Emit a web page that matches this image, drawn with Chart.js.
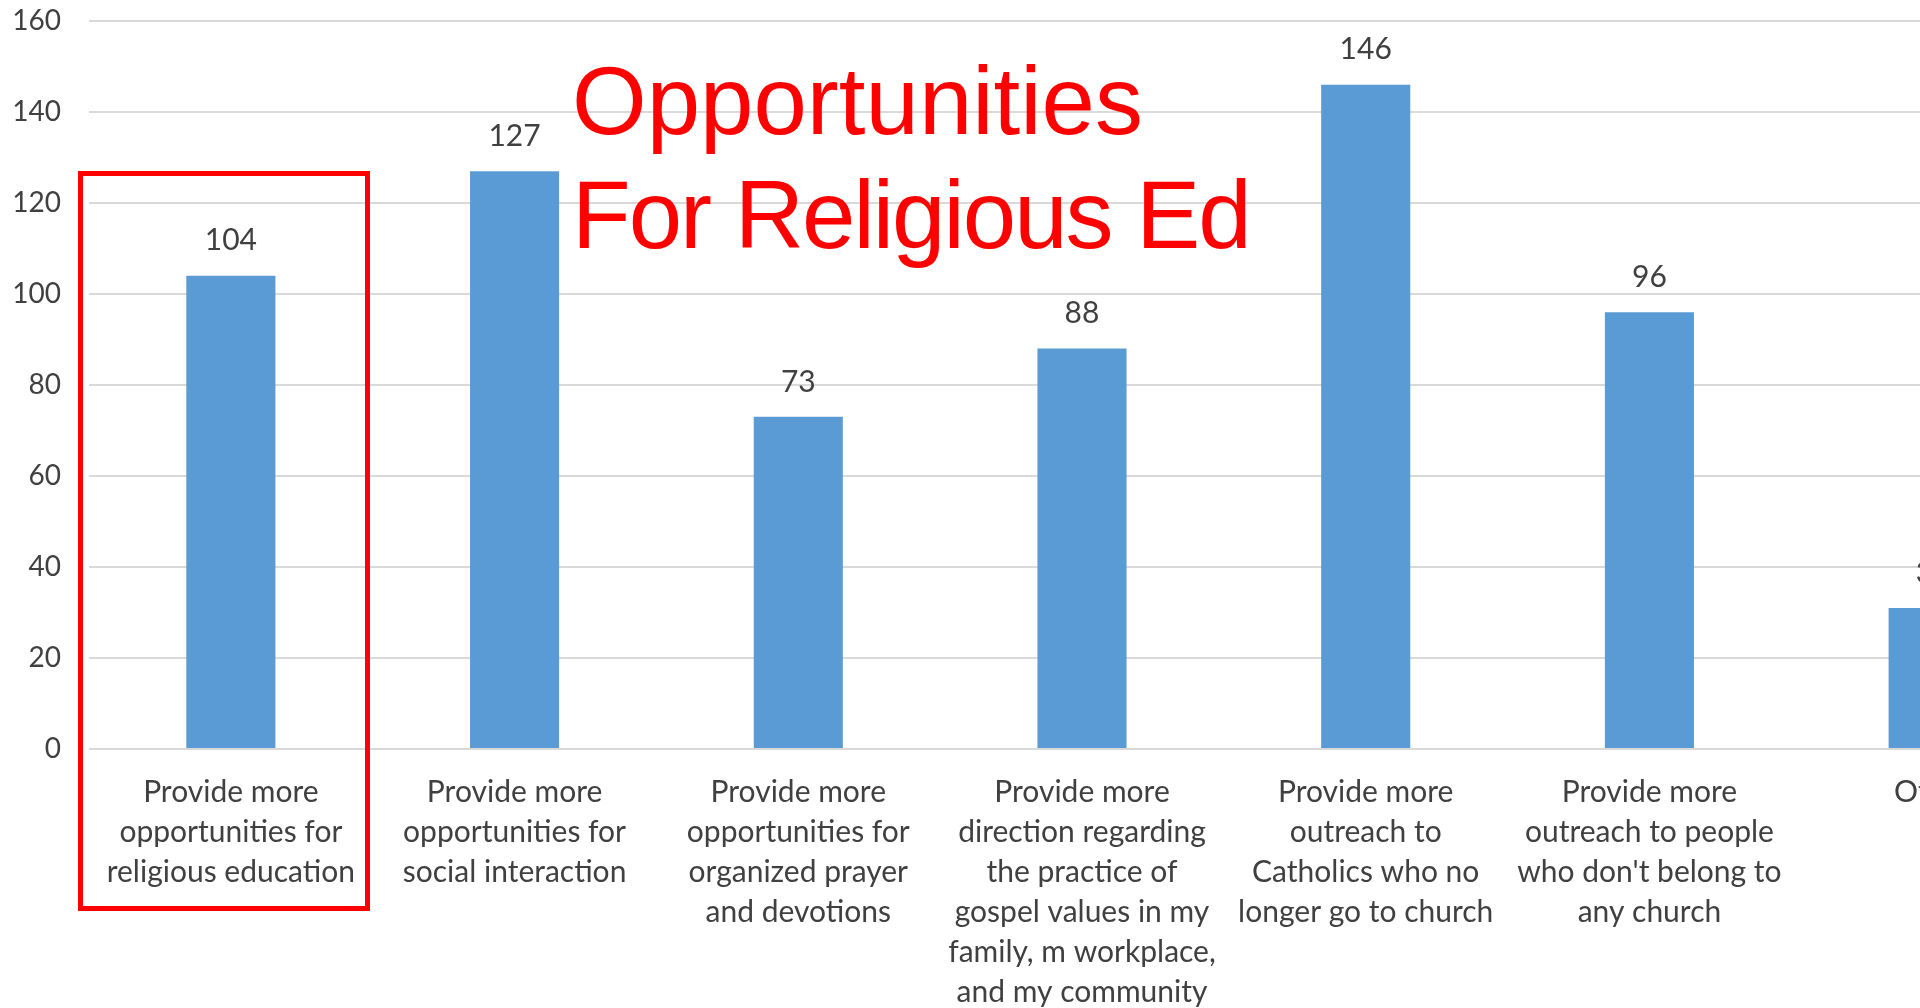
<!DOCTYPE html>
<html>
<head>
<meta charset="utf-8">
<script src="https://cdn.jsdelivr.net/npm/chart.js@4/dist/chart.umd.min.js"></script>
<style>
    html, body { margin: 0; padding: 0; overflow: hidden; background: #fff; }
    #wrap { position: relative; width: 2095px; height: 1008px; }
    #title {
        position: absolute; left: 572px; top: 44px;
        font-family: "Liberation Sans", Arial, sans-serif;
        font-size: 96px; line-height: 114px; color: #ff0000;
        white-space: nowrap; pointer-events: none;
    }
    #title span { letter-spacing: -2px; }
    #box {
        position: absolute; left: 78px; top: 171px; width: 292px; height: 740px;
        border: 5px solid #ff0000; box-sizing: border-box; pointer-events: none;
    }
</style>
</head>
<body>
<div id="wrap">
    <canvas id="chartOpciones"></canvas>
    <div id="box"></div>
    <div id="title">Opportunities<br><span>For Religious Ed</span></div>
</div>
<script>
// categorias y valores
var categorias = [
    ['Provide more', 'opportunities for', 'religious education'],
    ['Provide more', 'opportunities for', 'social interaction'],
    ['Provide more', 'opportunities for', 'organized prayer', 'and devotions'],
    ['Provide more', 'direction regarding', 'the practice of', 'gospel values in my', 'family, m workplace,', 'and my community'],
    ['Provide more', 'outreach to', 'Catholics who no', 'longer go to church'],
    ['Provide more', 'outreach to people', "who don't belong to", 'any church'],
    ['Other']
];
var valores = [104, 127, 73, 88, 146, 96, 31];
var ticksY = [0, 20, 40, 60, 80, 100, 120, 140, 160];

const textoColor = '#404040';

// etiquetas encima de cada barra
const etiquetasValor = {
    id: 'etiquetasValor',
    afterDatasetsDraw(chart) {
        const ctx = chart.ctx;
        const meta = chart.getDatasetMeta(0);
        ctx.save();
        ctx.font = '30px Lato';
        ctx.fillStyle = textoColor;
        ctx.textAlign = 'center';
        ctx.textBaseline = 'middle';
        meta.data.forEach(function(bar, i) {
            ctx.fillText(String(valores[i]), bar.x, bar.y - 35);
        });
        ctx.restore();
    }
};

window.addEventListener('DOMContentLoaded', function() {
    const ctx = document.getElementById('chartOpciones').getContext('2d');
    new Chart(ctx, {
        type: 'bar',
        data: {
            labels: categorias,
            datasets: [{
                data: valores,
                backgroundColor: '#5b9bd5',
                categoryPercentage: 1,
                barPercentage: 0.314
            }]
        },
        options: {
            responsive: true,
            maintainAspectRatio: false,
            animation: false,
            layout: { padding: { top: 0, right: 20, left: 0, bottom: 0 } },
            plugins: {
                legend: { display: false },
                title: { display: false },
                tooltip: { enabled: false }
            },
            scales: {
                x: {
                    grid: { display: false },
                    border: { display: false },
                    ticks: {
                        color: textoColor,
                        font: { family: 'Lato', size: 30, lineHeight: 40 / 30 },
                        padding: 15, maxRotation: 0, autoSkip: false
                    },
                    afterFit: function(scale) { scale.height = 259; }
                },
                y: {
                    min: ticksY[0],
                    max: ticksY[ticksY.length - 1],
                    afterBuildTicks: function(scale) {
                        scale.ticks = ticksY.map(function(v) { return { value: v }; });
                    },
                    grid: { color: '#d9d9d9', lineWidth: 2, drawTicks: false },
                    border: { display: false },
                    ticks: { color: textoColor, font: { family: 'Lato', size: 28 }, padding: 28 },
                    afterFit: function(scale) {
                        scale.width = 89;
                        scale.paddingTop = 21;
                    }
                }
            }
        },
        plugins: [etiquetasValor]
    });
});
</script>
</body>
</html>
